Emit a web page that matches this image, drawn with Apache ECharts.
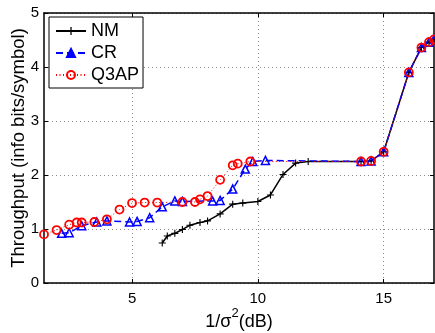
<!DOCTYPE html>
<html>
<head>
<meta charset="utf-8">
<script src="https://cdn.jsdelivr.net/npm/echarts@6/dist/echarts.min.js"></script>
<style>
  html, body { margin: 0; padding: 0; background: #fff; }
  #chart { width: 435px; height: 333px; }
</style>
</head>
<body>
<div id="chart"></div>
<script>
// Throughput vs 1/sigma^2 (dB) for three schemes
const nmX = [6.2, 6.4, 6.7, 7.0, 7.3, 7.7, 8.0, 8.5, 9.0, 9.4, 10.0, 10.5, 11.0, 11.5, 12.0, 14.1, 14.5, 15.0, 16.0, 16.5, 16.8, 17.0];
const nmY = [0.74, 0.87, 0.92, 0.99, 1.07, 1.12, 1.15, 1.28, 1.46, 1.48, 1.51, 1.63, 2.01, 2.22, 2.25, 2.25, 2.26, 2.43, 3.90, 4.36, 4.46, 4.51];

const crX = [2.2, 2.5, 3.0, 3.6, 4.0, 4.9, 5.2, 5.7, 6.2, 6.7, 7.0, 8.2, 8.5, 9.0, 9.5, 9.8, 10.3, 14.1, 14.5, 15.0, 16.0, 16.5, 16.8, 17.0];
const crY = [0.92, 0.93, 1.06, 1.13, 1.15, 1.13, 1.14, 1.21, 1.41, 1.52, 1.51, 1.52, 1.53, 1.74, 2.11, 2.25, 2.27, 2.25, 2.26, 2.43, 3.90, 4.36, 4.46, 4.51];

const q3X = [1.5, 2.0, 2.5, 2.8, 3.0, 3.5, 4.0, 4.5, 5.0, 5.5, 6.0, 7.0, 7.5, 7.7, 8.0, 8.5, 9.0, 9.2, 9.7, 14.1, 14.5, 15.0, 16.0, 16.5, 16.8, 17.0];
const q3Y = [0.90, 0.98, 1.08, 1.12, 1.12, 1.13, 1.18, 1.36, 1.48, 1.49, 1.49, 1.50, 1.50, 1.55, 1.61, 1.91, 2.18, 2.21, 2.25, 2.25, 2.26, 2.43, 3.90, 4.36, 4.46, 4.51];

const xTicks = [5, 10, 15];
const seriesNames = ['NM', 'CR', 'Q3AP'];

const FONT = '"Liberation Sans", Arial, Helvetica, sans-serif';
const zip = (xs, ys) => xs.map((x, i) => [x, ys[i]]);
const plusPath = 'path://M4.2,0H5.8V10H4.2Z M0,4.2H10V5.8H0Z';

const gridLine = { show: true, lineStyle: { color: '#8c8c8c', width: 1, type: [1, 3] } };
const frameLine = { show: true, onZero: false, lineStyle: { color: '#000', width: 1.5 } };

const chart = echarts.init(document.getElementById('chart'), null, { renderer: 'canvas' });
chart.setOption({
  animation: false,
  backgroundColor: '#fff',
  textStyle: { fontFamily: FONT },
  grid: { left: 44, right: 1, top: 13, bottom: 50, containLabel: false, outerBoundsMode: 'none' },
  legend: {
    orient: 'vertical',
    left: 49, top: 17,
    padding: [5, 4, 4, 6],
    itemWidth: 30, itemHeight: 10, itemGap: 4,
    backgroundColor: '#fff',
    borderColor: '#000', borderWidth: 1, borderRadius: 0,
    textStyle: { fontSize: 18, color: '#000', fontFamily: FONT, lineHeight: 18 },
    data: [
      { name: seriesNames[0] },
      { name: seriesNames[1], itemStyle: { color: '#0000ff', borderColor: '#0000ff' } },
      { name: seriesNames[2] }
    ]
  },
  xAxis: [{
    type: 'value', min: 1.5, max: 17,
    name: '{a|1/σ}{b|2}{a|(dB)}', nameLocation: 'middle', nameGap: 24, nameMoveOverlap: false,
    nameTextStyle: {
      color: '#000', fontFamily: FONT,
      rich: {
        a: { fontSize: 18, lineHeight: 30, color: '#000', fontFamily: FONT, verticalAlign: 'middle' },
        b: { fontSize: 13, lineHeight: 6, color: '#000', fontFamily: FONT, verticalAlign: 'top' }
      }
    },
    axisLine: frameLine,
    axisTick: { show: true, inside: true, length: 4, customValues: xTicks, lineStyle: { color: '#000' } },
    axisLabel: { customValues: xTicks, fontSize: 15, color: '#000', margin: 8, fontFamily: FONT },
    splitLine: gridLine
  }, {
    type: 'value', min: 1.5, max: 17, position: 'top',
    axisLine: frameLine,
    axisTick: { show: true, inside: true, length: 4, customValues: xTicks, lineStyle: { color: '#000' } },
    axisLabel: { show: false },
    splitLine: { show: false }
  }],
  yAxis: [{
    type: 'value', min: 0, max: 5, interval: 1,
    name: 'Throughput (info bits/symbol)', nameLocation: 'middle', nameGap: 16, nameMoveOverlap: false,
    nameTextStyle: { fontSize: 18.5, color: '#000', fontFamily: FONT },
    axisLine: frameLine,
    axisTick: { show: true, inside: true, length: 4, lineStyle: { color: '#000' } },
    axisLabel: { fontSize: 15, color: '#000', margin: 5, fontFamily: FONT },
    splitLine: gridLine
  }, {
    type: 'value', min: 0, max: 5, interval: 1, position: 'right',
    axisLine: frameLine,
    axisTick: { show: true, inside: true, length: 4, lineStyle: { color: '#000' } },
    axisLabel: { show: false },
    splitLine: { show: false }
  }],
  series: [{
    name: seriesNames[0], type: 'line', clip: false,
    data: zip(nmX, nmY),
    symbol: plusPath, symbolSize: 7,
    lineStyle: { color: '#000', width: 1.5, type: 'solid' },
    itemStyle: { color: '#000' }
  }, {
    name: seriesNames[1], type: 'line', clip: false,
    data: zip(crX, crY),
    symbol: 'triangle', symbolSize: 8,
    lineStyle: { color: '#0000ff', width: 1.5, type: [7, 4] },
    itemStyle: { color: 'rgba(255,255,255,0)', borderColor: '#0000ff', borderWidth: 1.5 }
  }, {
    name: seriesNames[2], type: 'line', clip: false,
    data: zip(q3X, q3Y),
    symbol: 'circle', symbolSize: 8,
    lineStyle: { color: '#ff0000', width: 1, type: [1, 2.5] },
    itemStyle: { color: 'rgba(255,255,255,0)', borderColor: '#ff0000', borderWidth: 1.8 }
  }]
});
</script>
</body>
</html>
